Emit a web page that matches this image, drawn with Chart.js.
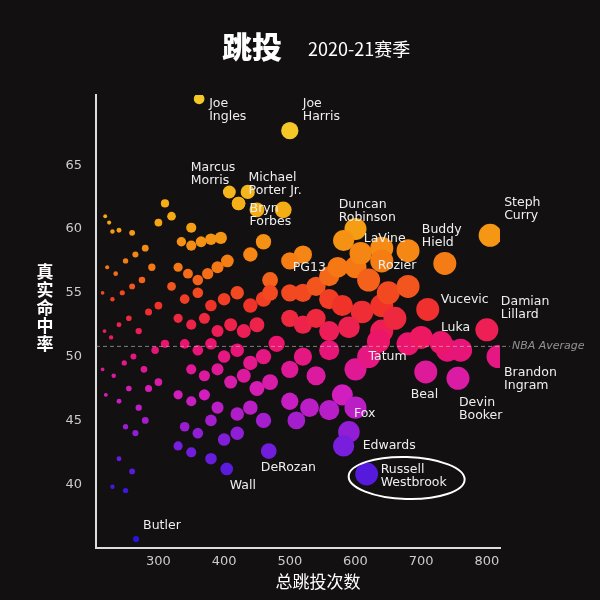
<!DOCTYPE html>
<html><head><meta charset="utf-8">
<script src="https://cdn.jsdelivr.net/npm/chart.js@4/dist/chart.umd.min.js"></script>
<style>html,body{margin:0;background:#121010;}canvas{display:block}</style>
</head><body><div style="width:600px;height:600px"><canvas id="c"></canvas></div>
<script>
const names = ["Joe\nIngles","Joe\nHarris","Marcus\nMorris","Michael\nPorter Jr.","Bryn\nForbes","Duncan\nRobinson","LaVine","Rozier","Buddy\nHield","Steph\nCurry","PG13","Vucevic","Damian\nLillard","Luka","Tatum","Brandon\nIngram","Beal","Devin\nBooker","Fox","Edwards","Russell\nWestbrook","DeRozan","Wall","Butler"];
const namedShots = [362,500,436,422,422,582,608,640,736,805,573,710,800,730,635,817,707,756,590,582,617,468,404,266];
const namedTS = [70.2,67.7,62.9,62.0,62.0,59.1,58.1,57.5,57.3,59.5,57.0,53.7,52.1,51.1,51.2,50.0,48.8,48.3,44.1,43.0,40.8,42.6,41.2,35.7];
const otherShots = [219,225,230,240,260,222,235,250,265,280,215,230,245,260,275,290,218,228,240,255,270,285,300,215,232,248,262,278,295,310,220,240,255,270,285,300,250,265,280,240,260,250,230,
300,310,320,335,350,365,380,395,350,330,345,360,375,390,405,320,340,360,380,400,420,440,460,330,350,370,390,410,430,450,340,360,380,400,420,440,460,480,350,370,390,410,430,450,470,330,350,370,390,420,440,460,340,360,380,400,420,330,350,380,490,470,440,500,520,540,560,580,610,640,650,500,520,540,560,590,520,560,600,620,500,540,580,640,660,680,700,740,760,500,530,560,510,600,600,620,680,680,640,520,560,600,500,470,460,450,408];
const otherTS = [61,60.5,59.8,59.9,59.7,57,56.5,57.5,58,58.5,55,54.5,55,55.5,56,57,52,51.5,52.5,53,52,53.5,54,49,48.5,49.5,50,49,50.5,51,47,46.5,47.5,46,47.5,48,44.5,44,45,42,41,39.5,39.8,
60.5,62,61,59,58.7,59,59.2,59.3,60.1,57,56.5,56,56.5,57,57.5,55.5,54.5,55,54,54.5,55,54,54.5,53,52.5,53,52,52.5,52,52.5,51,50.5,51,50,50.5,49.5,50,51,49,48.5,49,48,48.5,47.5,48,47,46.5,47,46,45.5,46,45,44.5,44,45,43.5,44,43,42.5,42,61.5,56,58,53,55,55.5,54.5,54,53.5,54,55,55,52.5,53,52,52.3,50,50.5,49,50,49,48.5,47,52,53,51,51.5,50.5,50.5,46.5,46,45.8,45,46,57,56,55.5,58.3,58.5,58,56.3,60,57.5,55,59,61.5,62.9];
const xTicks = [300,400,500,600,700,800];
const yTicks = [40,45,50,55,60,65];
const nbaAverage = 50.8;

const offs = [[10,5],[13,-27],[-57,-24],[10,-26],[11,5],[-5,-36],[3,-14],[-4,5],[-23,-34],[14,-33],[-45,0],[13,-10],[14,-28],[0,-15],[-10,15],[6,16],[-15,23],[1,24],[5,-18],[19,0],[14,-4],[-8,17],[3,17],[7,-13]];

function colorFor(v){
  const stops=[[38,[40,20,220]],[43,[120,30,220]],[47,[210,30,190]],[51,[235,20,110]],[54,[240,50,40]],[57,[245,120,20]],[61,[245,170,20]],[66,[245,200,40]]];
  if(v<=stops[0][0]) return 'rgb('+stops[0][1]+')';
  for(let i=1;i<stops.length;i++){ if(v<=stops[i][0]){const a=stops[i-1],b=stops[i];const t=(v-a[0])/(b[0]-a[0]);return 'rgb('+a[1].map((c,k)=>Math.round(c+(b[1][k]-c)*t)).join(',')+')';}}
  return 'rgb('+stops[stops.length-1][1]+')';
}
const pts = otherShots.map((x,i)=>({x,y:otherTS[i]})).concat(namedShots.map((x,i)=>({x,y:namedTS[i]})));
const rad = c => { const x=c.raw.x; return Math.min(11.5, 1.5 + (x-200)/42); };

const deco = {
  id:'deco',
  afterDraw(ch){
    const g=ch.ctx, xs=ch.scales.x, ys=ch.scales.y;
    g.save();
    const yy=ys.getPixelForValue(nbaAverage);
    g.setLineDash([4,3]); g.strokeStyle='rgba(200,200,200,0.6)'; g.lineWidth=1;
    g.beginPath(); g.moveTo(xs.left,yy); g.lineTo(510,yy); g.stroke(); g.setLineDash([]);
    g.fillStyle='rgba(200,200,200,0.7)'; g.font='italic 11px "DejaVu Sans"'; g.textBaseline='middle';
    g.fillText('NBA Average',512,yy);
    g.fillStyle='#eee'; g.font='12.5px "DejaVu Sans"';
    names.forEach((n,i)=>{
      const px=xs.getPixelForValue(namedShots[i]), py=ys.getPixelForValue(namedTS[i]);
      const [dx,dy]=offs[i]; n.split('\n').forEach((l,k)=>g.fillText(l,px+dx,py+dy+k*13));
    });
    const wx=xs.getPixelForValue(namedShots[20]), wy=ys.getPixelForValue(namedTS[20]);
    g.strokeStyle='#fff'; g.lineWidth=2; g.beginPath(); g.ellipse(wx+40,wy+4,58,21,0.03,0,Math.PI*2); g.stroke();
    g.textBaseline='alphabetic'; g.fillStyle='#fff';
    g.font='900 30px "Noto Sans CJK SC"'; g.fillText('跳投',222,58);
    g.font='18px "Noto Sans CJK SC"'; g.fillText('2020-21赛季',308,56);
    g.font='bold 17px "Noto Sans CJK SC"'; g.textAlign='center'; g.textBaseline='middle';
    '真实命中率'.split('').forEach((c,k)=>g.fillText(c,45,272+k*18));
    g.font='17px "Noto Sans CJK SC"';
    g.fillText('总跳投次数',318,582);
    g.restore();
  }
};

new Chart(document.getElementById('c'),{
  type:'bubble',
  data:{datasets:[{data:pts,radius:rad,hoverRadius:rad,backgroundColor:c=>colorFor(c.raw.y),borderWidth:0}]},
  options:{
    responsive:true,maintainAspectRatio:false,animation:false,
    plugins:{legend:{display:false},tooltip:{enabled:false}},
    layout:{padding:{top:95,right:100,left:0,bottom:0}},
    scales:{
      x:{min:205,max:820,afterBuildTicks:s=>{s.ticks=xTicks.map(v=>({value:v}));},
        afterFit:s=>{s.height=52;},
        grid:{display:false,drawTicks:false},border:{color:'#ddd',width:2},
        ticks:{color:'#ccc',font:{size:13,family:'DejaVu Sans'},padding:6}},
      y:{min:35,max:70.5,afterBuildTicks:s=>{s.ticks=yTicks.map(v=>({value:v}));},
        afterFit:s=>{s.width=96;},
        grid:{display:false,drawTicks:false},border:{color:'#ddd',width:2},
        ticks:{color:'#ccc',font:{size:13,family:'DejaVu Sans'},padding:14}}
    }
  },
  plugins:[deco]
});
</script></body></html>
